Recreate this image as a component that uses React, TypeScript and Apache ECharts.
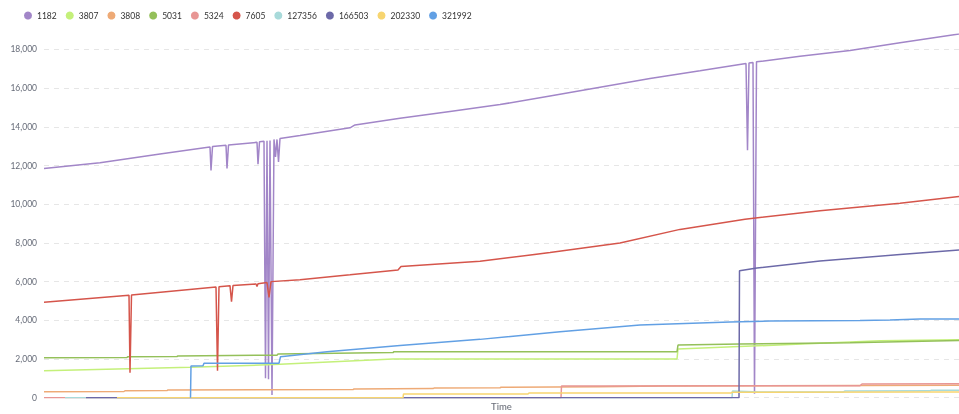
import React, { useEffect, useRef } from "react";
import * as echarts from "echarts";

// Time axis: day offsets from START
const START = Date.UTC(2023, 0, 1);
const DAY = 86400000;
const END_DAY = 366;

const seriesNames = ["1182", "3807", "3808", "5031", "5324", "7605", "127356", "166503", "202330", "321992"];
const colors = ["#a286c8", "#c4f07a", "#eeaa76", "#94c05a", "#e89694", "#d5554b", "#a8dada", "#6c69a8", "#f7d570", "#62a0e4"];

const days1182 = [0, 22.4, 46.4, 65.6, 66.4, 66.8, 67.4, 72.8, 73.2, 73.8, 85.2, 85.6, 86.2, 88, 88.6, 89.2, 89.8, 90.4, 91.2, 92, 92.6, 93.2, 93.8, 94.4, 102.4, 122.4, 124.4, 142.4, 162.4, 182.4, 202.4, 222.4, 242.4, 262.4, 280.8, 281.4, 282, 283.6, 284.2, 285, 302.4, 322.4, 342.4, 366];
const vals1182 = [11850, 12150, 12600, 12950, 12960, 11750, 12980, 13050, 11850, 13060, 13200, 12070, 13230, 13250, 1000, 13280, 950, 13300, 140, 13350, 12450, 13350, 12190, 13400, 13550, 13950, 14100, 14450, 14800, 15150, 15600, 16050, 16500, 16900, 17280, 12790, 17300, 17330, 200, 17360, 17650, 17950, 18350, 18800];

const days3807 = [0, 58.4, 94.4, 139.6, 253.2, 253.6, 298.4, 334.4, 366];
const vals3807 = [1395, 1570, 1725, 2000, 2000, 2515, 2750, 2950, 2990];

const days3808 = [0, 32, 32.4, 49.2, 49.6, 123.6, 124, 155.6, 156, 182.4, 182.8, 222.4, 247.2, 366];
const vals3808 = [310, 320, 360, 370, 400, 420, 450, 470, 500, 510, 540, 570, 600, 640];

const days5031 = [0, 33.2, 33.6, 53.2, 53.6, 93.2, 93.6, 139.6, 140, 253.2, 253.6, 278.4, 322.4, 366];
const vals5031 = [2070, 2080, 2120, 2130, 2160, 2200, 2260, 2330, 2380, 2380, 2720, 2770, 2840, 2960];

const days5324 = [0, 206.8, 207, 225.6, 326.4, 327.2, 366];
const vals5324 = [0, 0, 600, 610, 620, 710, 720];

const days7605 = [0, 34, 34.4, 35, 68.8, 69.4, 70, 74.4, 75, 75.6, 84.8, 85.2, 85.6, 89.2, 90, 90.8, 102.4, 122.4, 141.6, 142.8, 174.4, 202.4, 230.4, 254.4, 280.4, 310.4, 342.4, 366];
const vals7605 = [4930, 5300, 1290, 5310, 5720, 1400, 5730, 5790, 4960, 5800, 5880, 5750, 5890, 5950, 5190, 6000, 6100, 6350, 6600, 6780, 7050, 7500, 8000, 8700, 9230, 9660, 10050, 10400];

const days127356 = [8.4, 275.2, 275.4, 286.4, 319.6, 320.4, 354.4, 354.8, 366];
const vals127356 = [0, 0, 340, 300, 290, 345, 355, 380, 385];

const days166503 = [16.8, 278, 278.2, 285.2, 310.4, 342.4, 366];
const vals166503 = [0, 0, 6560, 6700, 7060, 7400, 7640];

const days202330 = [29.2, 143.6, 143.8, 193.6, 194, 274.8, 275.2, 350.4, 366];
const vals202330 = [0, 0, 190, 190, 240, 240, 280, 290, 300];

const days321992 = [58.6, 58.8, 63.6, 64, 94, 94.6, 113.2, 142.4, 174.4, 206.4, 238.4, 274.4, 290.4, 326.4, 338.4, 350.4, 366];
const vals321992 = [0, 1640, 1650, 1780, 1780, 2120, 2380, 2700, 3015, 3410, 3755, 3910, 3960, 3990, 4010, 4065, 4070];

const seriesDays = [days1182, days3807, days3808, days5031, days5324, days7605, days127356, days166503, days202330, days321992];
const seriesVals = [vals1182, vals3807, vals3808, vals5031, vals5324, vals7605, vals127356, vals166503, vals202330, vals321992];

const FONT = "Lato, 'Noto Sans', sans-serif";

export default function App() {
  const ref = useRef<HTMLDivElement>(null);
  useEffect(() => {
    if (!ref.current) return;
    const chart = echarts.init(ref.current, null, { renderer: "svg" });
    chart.setOption({
      animation: false,
      color: colors,
      legend: {
        left: 19,
        top: 6,
        icon: "circle",
        itemWidth: 8,
        itemHeight: 8,
        itemGap: 9,
        textStyle: { fontSize: 8.5, color: "#333333", fontFamily: FONT },
        data: seriesNames,
      },
      grid: { left: 44, right: 0, top: 34, bottom: 16.3, outerBoundsMode: "none", containLabel: false },
      xAxis: {
        type: "time",
        min: START,
        max: START + END_DAY * DAY,
        name: "Time",
        nameLocation: "middle",
        nameGap: 4,
        nameTextStyle: { fontSize: 9.5, color: "#6b6f7a", fontFamily: FONT, fontWeight: 500 },
        axisLabel: { show: false },
        axisTick: { show: false },
        axisLine: { show: false },
        splitLine: { show: false },
      },
      yAxis: {
        type: "value",
        min: 0,
        max: "dataMax",
        interval: 2000,
        axisLine: { show: false },
        axisTick: { show: false },
        axisLabel: {
          fontSize: 8.5,
          color: "#666b78",
          fontFamily: FONT,
          margin: 7,
          formatter: (v: number) => (v % 2000 === 0 ? v.toLocaleString("en-US") : ""),
        },
        splitLine: { show: true, showMaxLine: false, lineStyle: { type: [5, 5], color: "#e6e6e6", width: 1 } },
      },
      series: seriesNames.map((name, i) => ({
        name,
        type: "line",
        showSymbol: false,
        symbol: "none",
        lineStyle: { width: 1.5 },
        data: seriesDays[i].map((d, j) => [START + d * DAY, seriesVals[i][j]]),
      })),
    });
    return () => chart.dispose();
  }, []);
  return <div ref={ref} style={{ position: "fixed", left: 0, top: 0, width: 959, height: 414 }} />;
}
